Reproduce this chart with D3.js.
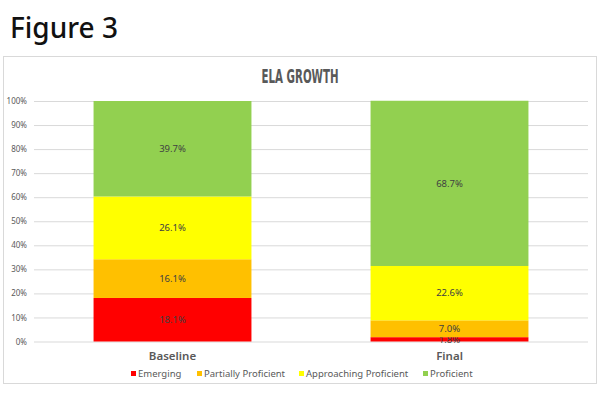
<!DOCTYPE html>
<html>
<head>
<meta charset="utf-8">
<script src="https://cdn.jsdelivr.net/npm/d3@7"></script>
<style>
  body { margin: 0; background: #fff; }
  svg { display: block; }
</style>
</head>
<body>
<div id="vis"></div>
<script>
var categories = ["Baseline", "Final"];
var seriesNames = ["Emerging", "Partially Proficient", "Approaching Proficient", "Proficient"];
var emerging = [18.1, 1.8];
var partiallyProficient = [16.1, 7.0];
var approachingProficient = [26.1, 22.6];
var proficient = [39.7, 68.7];
var yTicks = [0, 10, 20, 30, 40, 50, 60, 70, 80, 90, 100];

var colors = ["#ff0000", "#ffc000", "#ffff00", "#92d050"];
var seriesValues = [emerging, partiallyProficient, approachingProficient, proficient];

var width = 600, height = 400;
var margin = {top: 101, right: 12, bottom: 58.5, left: 34};

var svg = d3.select("#vis").append("svg")
    .attr("width", width)
    .attr("height", height);

svg.append("text")
    .attr("x", 10)
    .attr("y", 38)
    .attr("font-family", "'Noto Sans', sans-serif")
    .attr("font-weight", 500)
    .attr("font-size", 28)
    .attr("fill", "#111")
    .text("Figure 3");

// chart frame
svg.append("rect")
    .attr("x", 3.5).attr("y", 56.5)
    .attr("width", 593).attr("height", 327)
    .attr("fill", "#fff")
    .attr("stroke", "#d9d9d9");

svg.append("text")
    .attr("x", 300)
    .attr("y", 83)
    .attr("text-anchor", "middle")
    .attr("font-family", "'Liberation Sans Narrow', 'DejaVu Sans Condensed', sans-serif")
    .attr("font-weight", "bold")
    .attr("font-size", 19)
    .attr("fill", "#595959")
    .attr("textLength", 77)
    .attr("lengthAdjust", "spacingAndGlyphs")
    .text("ELA GROWTH");

var data = categories.map(function(c, i) {
  var row = {category: c};
  seriesNames.forEach(function(s, j) { row[s] = seriesValues[j][i]; });
  return row;
});

var stack = d3.stack().keys(seriesNames);
var stacked = stack(data);

var x = d3.scaleBand()
    .domain(categories)
    .range([margin.left, width - margin.right])
    .paddingInner(0.43)
    .paddingOuter(0.215);

var y = d3.scaleLinear()
    .domain([0, 100])
    .range([height - margin.bottom, margin.top]);

// gridlines + tick labels
var yAxis = svg.append("g")
    .attr("transform", "translate(" + margin.left + ",0)")
    .call(d3.axisLeft(y)
      .tickValues(yTicks)
      .tickSize(-(width - margin.left - margin.right))
      .tickPadding(7)
      .tickFormat(function(d) { return d + "%"; }));
yAxis.select(".domain").remove();
yAxis.selectAll(".tick line").attr("stroke", "#d9d9d9");
yAxis.selectAll(".tick text")
    .attr("font-family", "'Noto Sans', sans-serif")
    .attr("font-size", 8)
    .attr("fill", "#595959");

var layers = svg.selectAll(".layer")
    .data(stacked)
    .enter().append("g")
    .attr("class", "layer")
    .attr("fill", function(d, i) { return colors[i]; });

layers.selectAll("rect")
    .data(function(d) { return d; })
    .enter().append("rect")
    .attr("x", function(d) { return x(d.data.category); })
    .attr("y", function(d) { return y(d[1]); })
    .attr("height", function(d) { return y(d[0]) - y(d[1]); })
    .attr("width", x.bandwidth());

layers.selectAll("text")
    .data(function(d) { return d; })
    .enter().append("text")
    .attr("x", function(d) { return x(d.data.category) + x.bandwidth() / 2; })
    .attr("y", function(d) { return (y(d[0]) + y(d[1])) / 2; })
    .attr("dy", "0.35em")
    .attr("text-anchor", "middle")
    .attr("font-family", "'Noto Sans', sans-serif")
    .attr("font-size", 9.5)
    .attr("fill", "#404040")
    .text(function(d) { return (d[1] - d[0]).toFixed(1) + "%"; });

// category axis
var xAxis = svg.append("g")
    .attr("transform", "translate(0," + (height - margin.bottom) + ")")
    .call(d3.axisBottom(x).tickSize(0).tickPadding(10));
xAxis.select(".domain").remove();
xAxis.selectAll(".tick text")
    .attr("font-family", "'Noto Sans', sans-serif")
    .attr("font-weight", 600)
    .attr("font-size", 11.5)
    .attr("fill", "#595959");

// legend
var legendX = [131, 197, 299, 423];
var legend = svg.selectAll(".legend")
    .data(seriesNames)
    .enter().append("g")
    .attr("class", "legend")
    .attr("transform", function(d, i) { return "translate(" + legendX[i] + ",374)"; });
legend.append("rect")
    .attr("x", 0).attr("y", -3)
    .attr("width", 5).attr("height", 5)
    .attr("fill", function(d, i) { return colors[i]; });
legend.append("text")
    .attr("x", 7)
    .attr("y", 0)
    .attr("dy", "0.35em")
    .attr("font-family", "'Noto Sans', sans-serif")
    .attr("font-size", 9.5)
    .attr("fill", "#595959")
    .text(function(d) { return d; });
</script>
</body>
</html>
